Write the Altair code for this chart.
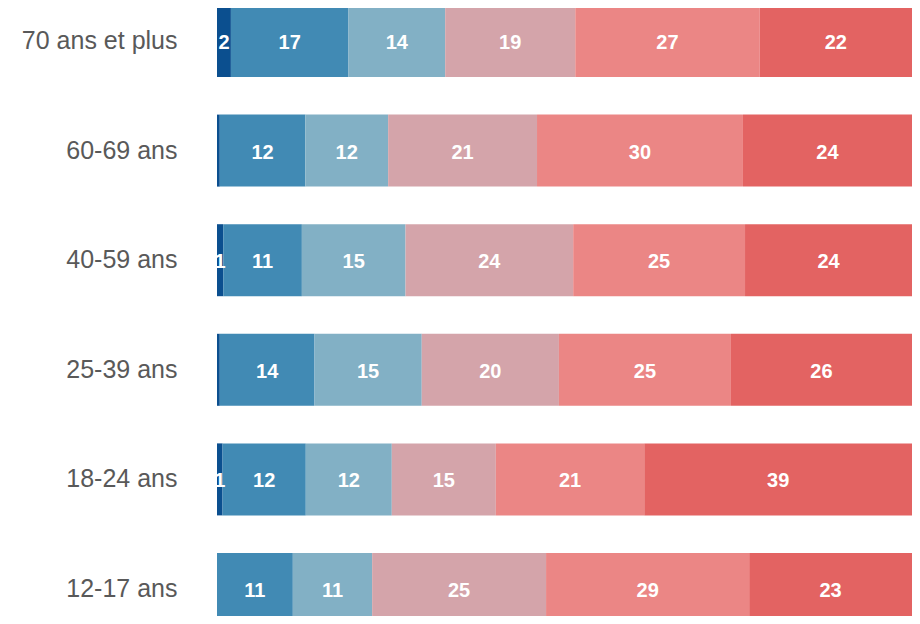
import altair as alt
import pandas as pd

categories = ["70 ans et plus", "60-69 ans", "40-59 ans", "25-39 ans", "18-24 ans", "12-17 ans"]
segments = ["s1", "s2", "s3", "s4", "s5", "s6"]
colors = ["#0b4f8f", "#418ab4", "#82b0c5", "#d4a4aa", "#eb8685", "#e36362"]

v_70plus = [2.0, 16.9, 13.9, 18.7, 26.5, 21.9]
v_60_69 = [0.4, 12.3, 11.9, 21.4, 29.6, 24.3]
v_40_59 = [0.9, 11.3, 14.9, 24.1, 24.7, 24.0]
v_25_39 = [0.4, 13.6, 15.4, 19.7, 24.7, 26.0]
v_18_24 = [0.8, 12.0, 12.4, 15.0, 21.4, 38.6]
v_12_17 = [0.0, 10.9, 11.4, 25.0, 29.2, 23.4]

rows = [v_70plus, v_60_69, v_40_59, v_25_39, v_18_24, v_12_17]
records = []
for cat, vals in zip(categories, rows):
    for i, (seg, v) in enumerate(zip(segments, vals)):
        records.append({"cat": cat, "seg": seg, "order": i, "value": v})
df = pd.DataFrame(records)

base = alt.Chart(df).transform_stack(
    stack="value",
    groupby=["cat"],
    sort=[alt.SortField("order", order="ascending")],
    as_=["v0", "v1"],
    offset="normalize",
).transform_calculate(mid="(datum.v0 + datum.v1) / 2")

yenc = alt.Y(
    "cat:N",
    sort=categories,
    title=None,
    scale=alt.Scale(range=[-3, 617], paddingInner=0.343, paddingOuter=0),
    axis=alt.Axis(
        domain=False,
        ticks=False,
        labelFontSize=25,
        labelColor="#595959",
        labelFont="Liberation Sans",
        labelPadding=40,
        labelLimit=400,
    ),
)

bars = base.mark_bar().encode(
    x=alt.X("v0:Q", axis=None, scale=alt.Scale(domain=[0, 1], nice=False, zero=True)),
    x2="v1:Q",
    y=yenc,
    color=alt.Color("seg:N", scale=alt.Scale(domain=segments, range=colors), legend=None),
)

labels = base.transform_filter("datum.value >= 0.5").mark_text(
    color="white",
    font="Liberation Sans",
    fontWeight="bold",
    fontSize=20,
    baseline="middle",
    align="center",
    dy=2,
).encode(
    x=alt.X("mid:Q"),
    y=alt.Y("cat:N", sort=categories),
    text=alt.Text("value:Q", format=".0f"),
)

chart = (
    alt.layer(bars, labels)
    .properties(
        width=695,
        height=608,
        autosize=alt.AutoSizeParams(type="none"),
        padding={"left": 209, "top": 0, "right": 0, "bottom": 0},
    )
    .configure_view(stroke=None)
)

chart.save("out.html", embed_options={"renderer": "svg", "actions": False})
